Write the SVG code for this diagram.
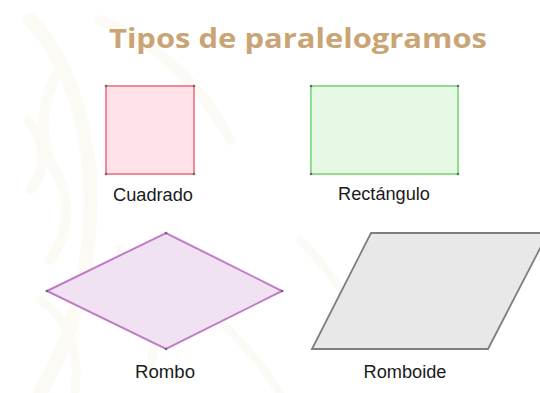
<svg xmlns="http://www.w3.org/2000/svg" width="540" height="393" viewBox="0 0 540 393">
  <style>
    .title { font-family: "Open Sans", "Liberation Sans", sans-serif; font-weight: bold; font-size: 26.5px; fill: #C9A474; }
    .label { font-family: "Liberation Sans", Arial, sans-serif; font-size: 17.5px; fill: #1a1a1a; text-anchor: middle; }
    .wm { fill: none; stroke: #FCFAF4; stroke-linecap: round; }
    .pt { fill: #6a6a6a; }
  </style>
  <rect x="0" y="0" width="540" height="393" fill="#FFFFFF"/>
  <g id="watermark">
    <path class="wm" stroke-width="14" d="M30,20 C70,60 95,140 90,220 C86,300 60,360 40,393"/>
    <path class="wm" stroke-width="10" d="M60,70 C40,100 38,140 55,170 C70,195 72,230 50,260"/>
    <path class="wm" stroke-width="10" d="M28,120 C45,140 48,170 30,190"/>
    <path class="wm" stroke-width="10" d="M100,20 C150,40 200,80 230,140"/>
    <path class="wm" stroke-width="9" d="M120,250 C150,280 160,320 150,370"/>
    <path class="wm" stroke-width="9" d="M40,300 C70,320 80,350 75,390"/>
    <path class="wm" stroke-width="8" d="M200,300 C230,330 260,360 280,393"/>
    <path class="wm" stroke-width="8" d="M300,240 C330,270 350,300 360,330"/>
  </g>
  <g id="title">
    <text class="title" x="109" y="47.5" textLength="378" lengthAdjust="spacingAndGlyphs">Tipos de paralelogramos</text>
  </g>
  <g id="cuadrado">
    <rect x="106" y="86" width="88" height="88" fill="#FFE3E8" stroke="#F3879B" stroke-width="2"/>
    <circle class="pt" cx="106" cy="86" r="1.3"/><circle class="pt" cx="194" cy="86" r="1.3"/>
    <circle class="pt" cx="106" cy="174" r="1.3"/><circle class="pt" cx="194" cy="174" r="1.3"/>
    <text class="label" x="153" y="201" textLength="80" lengthAdjust="spacingAndGlyphs">Cuadrado</text>
  </g>
  <g id="rectangulo">
    <rect x="311" y="86" width="147" height="88" fill="#E6F8E3" stroke="#8EE08C" stroke-width="2"/>
    <circle class="pt" cx="311" cy="86" r="1.3"/><circle class="pt" cx="458" cy="86" r="1.3"/>
    <circle class="pt" cx="311" cy="174" r="1.3"/><circle class="pt" cx="458" cy="174" r="1.3"/>
    <text class="label" x="384" y="200" textLength="92" lengthAdjust="spacingAndGlyphs">Rectángulo</text>
  </g>
  <g id="rombo">
    <polygon points="47,291 166,233 282,291 166,349" fill="#F1E2F3" stroke="#C07BC5" stroke-width="2"/>
    <circle class="pt" cx="47" cy="291" r="1.3"/><circle class="pt" cx="166" cy="233" r="1.3"/>
    <circle class="pt" cx="282" cy="291" r="1.3"/><circle class="pt" cx="166" cy="349" r="1.3"/>
    <text class="label" x="165" y="378" textLength="60" lengthAdjust="spacingAndGlyphs">Rombo</text>
  </g>
  <g id="romboide">
    <polygon points="312,349 371,233 548,233 488,349" fill="#E8E8E8" stroke="#7F7F7F" stroke-width="1.8"/>
    <text class="label" x="405" y="378" textLength="83" lengthAdjust="spacingAndGlyphs">Romboide</text>
  </g>
  <g id="connectors"></g>
</svg>
